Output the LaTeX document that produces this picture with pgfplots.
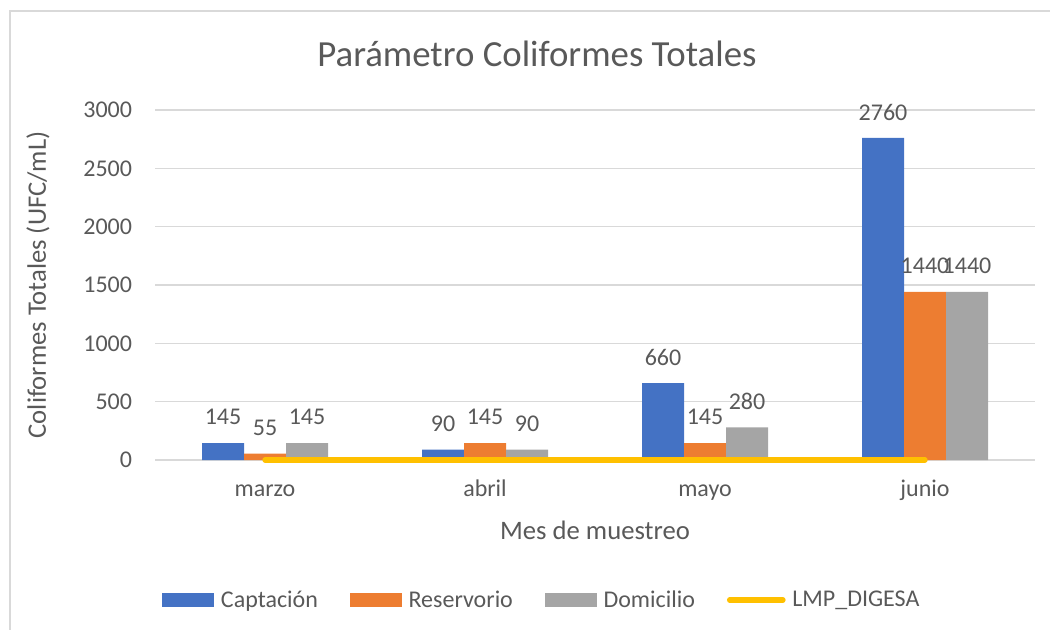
\documentclass[border=0pt]{standalone}
\usepackage{fontspec}
\setmainfont{Carlito}
\usepackage{pgfplots}
\pgfplotsset{compat=1.18}
\definecolor{cBlue}{HTML}{4472C4}
\definecolor{cOrange}{HTML}{ED7D31}
\definecolor{cGray}{HTML}{A5A5A5}
\definecolor{cYellow}{HTML}{FFC000}
\definecolor{cText}{HTML}{595959}
\definecolor{cGrid}{HTML}{D9D9D9}
\begin{document}
\begin{tikzpicture}[x=0.75pt,y=0.75pt]
\useasboundingbox (0,0) rectangle (1050,629);
\draw[cGrid, line width=1pt] (10,-5) -- (10,618) -- (1055,618);
\begin{axis}[
  at={(116.25pt,126.75pt)}, anchor=south west,
  scale only axis, width=660pt, height=262.5pt,
  clip=false,
  xmin=-0.5, xmax=3.5, ymin=0, ymax=3000,
  ytick={0,500,...,3000},
  xtick={0,1,2,3},
  xticklabels={marzo,abril,mayo,junio},
  axis line style={draw=none},
  major tick length=0pt,
  ymajorgrids, grid style={cGrid, line width=1pt},
  /pgf/number format/assume math mode=true,
  /pgf/number format/1000 sep={},
  tick label style={font=\fontsize{18}{21}\selectfont, text=cText},
  yticklabel style={anchor=east, inner sep=0pt, xshift=-17pt},
  xticklabel style={anchor=center, inner sep=0pt, text height=12pt, text depth=4pt, yshift=-23.5pt},
  ybar=0pt, bar width=31.5pt,
  title={Parámetro Coliformes Totales},
  title style={at={(axis description cs:0.434,1.138)}, anchor=center, font=\fontsize{27.6}{32}\selectfont, text=cText},
  xlabel={Mes de muestreo},
  xlabel style={at={(axis description cs:0.5,-0.2)}, anchor=center, font=\fontsize{20}{24}\selectfont, text=cText},
  ylabel={Coliformes Totales (UFC/mL)},
  ylabel style={at={(axis description cs:-0.133,0.5)}, anchor=center, rotate=0, font=\fontsize{20}{24}\selectfont, text=cText},
  nodes near coords,
  every node near coord/.append style={anchor=center, yshift=19.5pt, font=\fontsize{18}{21}\selectfont, text=cText},
  legend style={at={(axis description cs:0.44,-0.4)}, anchor=center, draw=none, fill=none,
    legend columns=4, font=\fontsize{18}{21}\selectfont, text=cText,
    /tikz/every even column/.append style={column sep=22pt},
    /tikz/every odd column/.append style={column sep=3pt}},
]
\addplot[fill=cBlue, draw=none, legend image code/.code={\fill[cBlue] (0pt,-5.5pt) rectangle (39pt,5.5pt);}]
  coordinates {(0,145) (1,90) (2,660) (3,2760)};
\addlegendentry{Captación}
\addplot[fill=cOrange, draw=none, legend image code/.code={\fill[cOrange] (0pt,-5.5pt) rectangle (39pt,5.5pt);}]
  coordinates {(0,55) (1,145) (2,145) (3,1440)};
\addlegendentry{Reservorio}
\addplot[fill=cGray, draw=none, legend image code/.code={\fill[cGray] (0pt,-5.5pt) rectangle (39pt,5.5pt);}]
  coordinates {(0,145) (1,90) (2,280) (3,1440)};
\addlegendentry{Domicilio}
\addplot[sharp plot, draw=cYellow, line width=4pt, line cap=round, nodes near coords={}, bar shift=0pt,
  legend image code/.code={\draw[cYellow, line width=4pt, line cap=round] (0pt,0pt) -- (40pt,0pt);}]
  coordinates {(0,0) (1,0) (2,0) (3,0)};
\addlegendentry{LMP\_DIGESA}
\end{axis}
\end{tikzpicture}
\end{document}
